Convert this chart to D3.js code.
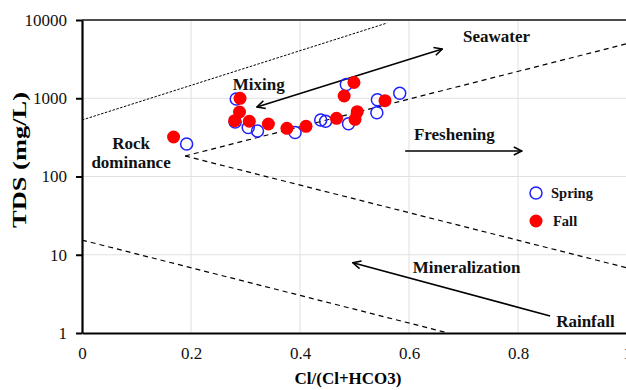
<!DOCTYPE html>
<html>
<head>
<meta charset="utf-8">
<script src="https://cdn.jsdelivr.net/npm/d3@7"></script>
<style>
body { margin: 0; background: #fff; }
svg text { font-family: "Liberation Serif", Tinos, "Times New Roman", Times, "DejaVu Serif", serif !important; }
</style>
</head>
<body>
<div id="chart"></div>
<script>
// samples
var springRatio = [0.192, 0.283, 0.281, 0.305, 0.322, 0.391, 0.438, 0.447, 0.489, 0.485, 0.541, 0.542, 0.583];
var springTDS   = [260, 978, 497, 423, 381, 365, 527, 508, 473, 1500, 654, 959, 1157];
var fallRatio = [0.168, 0.290, 0.289, 0.280, 0.307, 0.342, 0.376, 0.411, 0.467, 0.501, 0.505, 0.481, 0.499, 0.556];
var fallTDS   = [320, 998, 667, 517, 508, 469, 413, 438, 554, 538, 673, 1069, 1589, 931];

var xTicks = [0, 0.2, 0.4, 0.6, 0.8, 1];
var yTicks = [1, 10, 100, 1000, 10000];

// boundary lines and arrows, [ratio, TDS] pairs
var upperBound = [[0, 527], [0.56, 9160]];
var rockUpper = [[0.189, 183], [1, 4980]];
var rockLower = [[0.189, 183], [1, 6.8]];
var lowerBound = [[0, 15.4], [0.672, 1]];
var mixingArrow = [[0.321, 773], [0.661, 4260]];
var freshArrow = [[0.593, 212], [0.807, 212]];
var mineralArrow = [[0.859, 1.65], [0.497, 7.9]];

var labelText = ["Seawater", "Mixing", "Rock", "dominance", "Freshening", "Mineralization", "Rainfall"];
var labelRatio = [0.699, 0.2765, 0.090, 0.090, 0.609, 0.607, 0.870];
var labelTDS = [5230, 1275, 225, 128, 293, 5.76, 1.19];
var labelAnchor = ["start", "start", "middle", "middle", "start", "start", "start"];

var width = 626, height = 390;
var margin = { top: 20, left: 82, bottom: 57 };

var x = d3.scaleLinear()
    .domain([0, 1])
    .range([margin.left, 627]);

var y = d3.scaleLog()
    .domain([1, 10000])
    .range([height - margin.bottom, margin.top]);

var svg = d3.select("#chart").append("svg")
    .attr("width", width)
    .attr("height", height);

var defs = svg.append("defs");
defs.append("marker")
    .attr("id", "head")
    .attr("viewBox", "0 0 10 10")
    .attr("refX", 9).attr("refY", 5)
    .attr("markerWidth", 10).attr("markerHeight", 10)
    .attr("markerUnits", "userSpaceOnUse")
    .attr("orient", "auto-start-reverse")
  .append("path")
    .attr("d", "M1,1 L9,5 L1,9")
    .attr("fill", "none")
    .attr("stroke", "#000")
    .attr("stroke-width", 1.6);

// gridlines
svg.append("g").selectAll("line")
    .data(xTicks.slice(1))
  .enter().append("line")
    .attr("x1", function(d) { return x(d); })
    .attr("x2", function(d) { return x(d); })
    .attr("y1", y(1)).attr("y2", y(10000))
    .attr("stroke", "#e0e0e0");

svg.append("g").selectAll("line")
    .data(yTicks.slice(1, -1))
  .enter().append("line")
    .attr("x1", x(0)).attr("x2", x(1))
    .attr("y1", function(d) { return y(d); })
    .attr("y2", function(d) { return y(d); })
    .attr("stroke", "#e0e0e0");

// top border
svg.append("line")
    .attr("x1", x(0)).attr("x2", x(1))
    .attr("y1", y(10000)).attr("y2", y(10000))
    .attr("stroke", "#111")
    .attr("stroke-width", 1.5);

var line = d3.line()
    .x(function(d) { return x(d[0]); })
    .y(function(d) { return y(d[1]); });

svg.append("path").datum(upperBound)
    .attr("d", line).attr("fill", "none")
    .attr("stroke", "#000").attr("stroke-width", 1)
    .attr("stroke-dasharray", "2.5,1.5");

[rockUpper, rockLower, lowerBound].forEach(function(l) {
    svg.append("path").datum(l)
        .attr("d", line).attr("fill", "none")
        .attr("stroke", "#000").attr("stroke-width", 1.2)
        .attr("stroke-dasharray", "5,4");
});

svg.append("path").datum(mixingArrow)
    .attr("d", line).attr("fill", "none")
    .attr("stroke", "#000").attr("stroke-width", 1.5)
    .attr("marker-start", "url(#head)")
    .attr("marker-end", "url(#head)");

[freshArrow, mineralArrow].forEach(function(l) {
    svg.append("path").datum(l)
        .attr("d", line).attr("fill", "none")
        .attr("stroke", "#000").attr("stroke-width", 1.5)
        .attr("marker-end", "url(#head)");
});

// axes
var yAxis = svg.append("g")
    .attr("transform", "translate(" + x(0) + ",0)")
    .call(d3.axisLeft(y).tickValues(yTicks).tickFormat(d3.format("d"))
        .tickSize(6).tickSizeOuter(0).tickPadding(9));

var xAxis = svg.append("g")
    .attr("transform", "translate(0," + y(1) + ")")
    .call(d3.axisBottom(x).tickValues(xTicks).tickFormat(function(d) { return d3.format("")(d); })
        .tickSize(0).tickPadding(14));

[xAxis, yAxis].forEach(function(a) {
    a.attr("font-family", null);
    a.select(".domain").attr("stroke", "#000").attr("stroke-width", 2.2);
    a.selectAll(".tick line").attr("stroke", "#000").attr("stroke-width", 2);
    a.selectAll("text")
        .attr("font-size", 17)
        .attr("fill", "#111");
});

// axis titles
svg.append("text")
    .attr("transform", "translate(26,160) rotate(-90)")
    .attr("text-anchor", "middle")
    .attr("font-size", 18).attr("font-weight", "bold")
    .attr("textLength", 136).attr("lengthAdjust", "spacingAndGlyphs")
    .text("TDS (mg/L)");

svg.append("text")
    .attr("x", 348).attr("y", 384)
    .attr("text-anchor", "middle")
    .attr("font-size", 17).attr("font-weight", "bold")
    .text("Cl/(Cl+HCO3)");

// annotations
svg.append("g").selectAll("text")
    .data(labelText)
  .enter().append("text")
    .attr("x", function(d, i) { return x(labelRatio[i]); })
    .attr("y", function(d, i) { return y(labelTDS[i]); })
    .attr("text-anchor", function(d, i) { return labelAnchor[i]; })
    .attr("font-size", 17).attr("font-weight", "bold")
    .attr("fill", "#111")
    .text(function(d) { return d; });

// points
svg.append("g").selectAll("circle")
    .data(springRatio)
  .enter().append("circle")
    .attr("cx", function(d) { return x(d); })
    .attr("cy", function(d, i) { return y(springTDS[i]); })
    .attr("r", 6)
    .attr("fill", "none")
    .attr("stroke", "#2020ff")
    .attr("stroke-width", 1.5);

svg.append("g").selectAll("circle")
    .data(fallRatio)
  .enter().append("circle")
    .attr("cx", function(d) { return x(d); })
    .attr("cy", function(d, i) { return y(fallTDS[i]); })
    .attr("r", 6.5)
    .attr("fill", "#ff0000");

// legend
var legend = svg.append("g").attr("transform", "translate(536,193)");
legend.append("circle").attr("r", 6).attr("fill", "none")
    .attr("stroke", "#2020ff").attr("stroke-width", 1.5);
legend.append("text").attr("x", 15).attr("y", 5)
    .attr("font-size", 14.5).attr("font-weight", "bold").attr("fill", "#111")
    .text("Spring");
legend.append("circle").attr("cy", 28).attr("r", 6.5).attr("fill", "#ff0000");
legend.append("text").attr("x", 17).attr("y", 33)
    .attr("font-size", 14.5).attr("font-weight", "bold").attr("fill", "#111")
    .text("Fall");
</script>
</body>
</html>
